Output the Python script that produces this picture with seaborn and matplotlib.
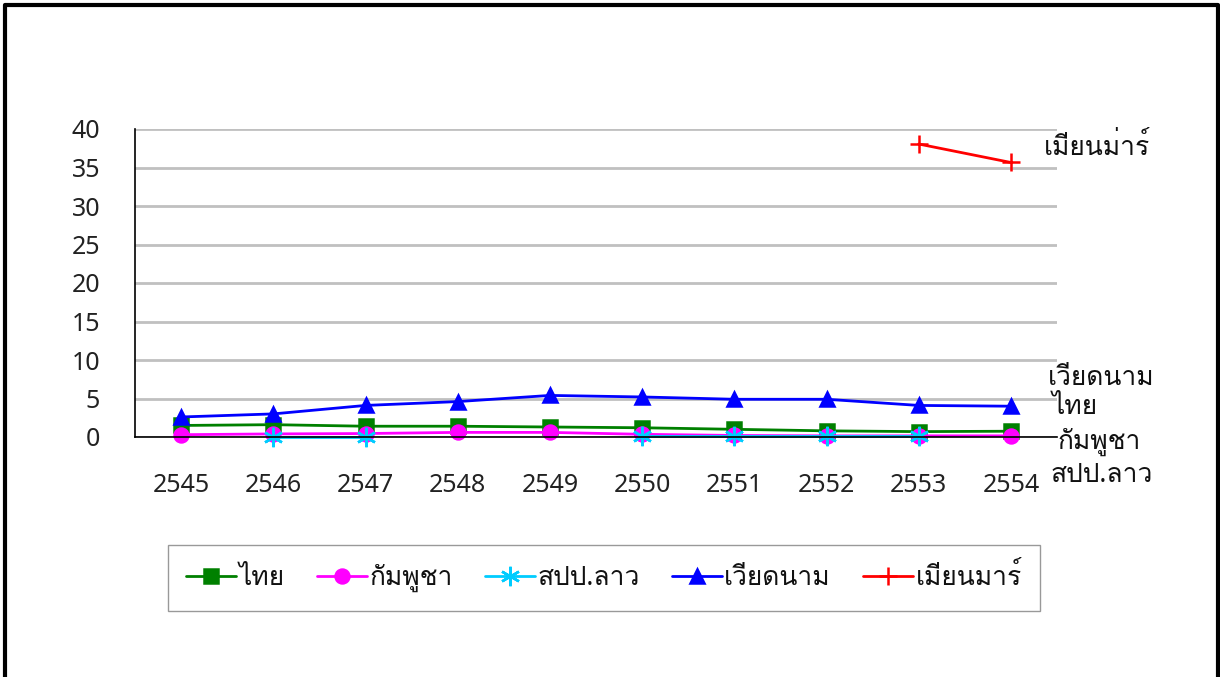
import numpy as np
import pandas as pd
import matplotlib
matplotlib.use("Agg")
import matplotlib.pyplot as plt
from matplotlib import font_manager
from matplotlib.lines import Line2D
import seaborn as sns

# data
years = ["2545", "2546", "2547", "2548", "2549", "2550", "2551", "2552", "2553", "2554"]
countries = ["ไทย", "กัมพูชา", "สปป.ลาว", "เวียดนาม", "เมียนมาร์"]
thai = [1.5, 1.6, 1.4, 1.4, 1.3, 1.2, 1.0, 0.8, 0.7, 0.75]
cambodia = [0.3, 0.4, 0.45, 0.6, 0.6, 0.35, 0.2, 0.15, 0.15, 0.15]
laos = [np.nan, 0.05, 0.05, np.nan, np.nan, 0.1, 0.1, 0.1, 0.1, np.nan]
vietnam = [2.6, 3.0, 4.1, 4.6, 5.4, 5.2, 4.9, 4.9, 4.1, 4.0]
myanmar = [np.nan, np.nan, np.nan, np.nan, np.nan, np.nan, np.nan, np.nan, 38.05, 35.65]
end_labels = ["ไทย", "กัมพูชา", "สปป.ลาว", "เวียดนาม", "เมียนม่าร์"]

colors = ["#008000", "#ff00ff", "#00ccff", "#0000ff", "#ff0000"]
markers = ["s", "o", (6, 2, 0), "^", "+"]
msizes = [10, 10, 14, 10, 13]


def find_thai_font():
    # look for an installed font that has Thai glyphs
    try:
        from fontTools.ttLib import TTFont
    except ImportError:
        return None
    for f in sorted(font_manager.findSystemFonts()):
        try:
            tt = TTFont(f, fontNumber=0, lazy=True)
            cmap = tt.getBestCmap()
            if cmap and 0x0E44 in cmap and 0x0E21 in cmap:
                return font_manager.FontProperties(fname=f).get_name()
        except Exception:
            continue
    return None


sns.set_theme(style="white")
thai_font = find_thai_font()
fams = ["Noto Sans", "DejaVu Sans"]
if thai_font:
    fams = ["Noto Sans", thai_font, "DejaVu Sans"]
plt.rcParams["font.family"] = fams

series = [thai, cambodia, laos, vietnam, myanmar]
rows = []
for name, vals in zip(countries, series):
    seg = 0
    prev_nan = True
    for i, v in enumerate(vals):
        if np.isnan(v):
            prev_nan = True
            continue
        if prev_nan:
            seg += 1
        prev_nan = False
        rows.append({"country": name, "x": i, "v": v, "seg": f"{name}_{seg}"})
df = pd.DataFrame(rows)

fig = plt.figure(figsize=(12.2, 6.77), dpi=100)
ax = fig.add_axes([135 / 1220, 1 - 437 / 677, (1057 - 135) / 1220, (437 - 129) / 677])

for name, c, m, ms in zip(countries, colors, markers, msizes):
    sub = df[df["country"] == name]
    sns.lineplot(data=sub, x="x", y="v", units="seg", estimator=None, ax=ax,
                 color=c, marker=m, markersize=ms, markeredgecolor=c,
                 markerfacecolor=c, markeredgewidth=1.8, linewidth=2, legend=False,
                 clip_on=False)

ax.set_xlim(-0.5, len(years) - 0.5)
ax.set_ylim(0, 40)
ax.set_yticks(range(0, 41, 5))
ax.set_xticks(np.arange(len(years)))
ax.set_xticklabels(years)
ax.set_xticks(np.arange(-0.5, len(years)), minor=True)
ax.tick_params(axis="x", which="major", length=0, pad=26, labelsize=18, colors="#222222")
ax.tick_params(axis="x", which="minor", length=8, width=1, color="#808080", direction="out")
ax.tick_params(axis="y", length=9, width=1, color="#808080", direction="out", labelsize=18,
               pad=16, labelcolor="#222222")
ax.set_xlabel("")
ax.set_ylabel("")
ax.yaxis.grid(True, color="#c0c0c0", linewidth=2)
ax.xaxis.grid(False)
ax.set_axisbelow(True)
for s in ["top", "right"]:
    ax.spines[s].set_visible(False)
for s in ["left", "bottom"]:
    ax.spines[s].set_color("black")
    ax.spines[s].set_linewidth(1.2)

# labels at the right end of the lines
label_y = [407, 442, 475, 378, 148]
label_x = [1052, 1058, 1050, 1048, 1044]
for lab, lx, ly in zip(end_labels, label_x, label_y):
    fig.text(lx / 1220, 1 - ly / 677, lab, fontsize=19, va="center", ha="left", color="#111111")

handles = []
for c, m, ms in zip(colors, markers, msizes):
    handles.append(Line2D([], [], color=c, marker=m, markersize=ms, markeredgecolor=c,
                          markerfacecolor=c, markeredgewidth=1.8, linewidth=2))
leg = fig.legend(handles, countries, loc="center", ncol=5, fontsize=19,
                 bbox_to_anchor=(604 / 1220, 1 - 578 / 677), frameon=True, fancybox=False,
                 handlelength=1.9, handletextpad=0.1, columnspacing=1.2,
                 borderpad=0.7, labelcolor="#111111")
leg.get_frame().set_edgecolor("#808080")
leg.get_frame().set_linewidth(1)

# outer chart border (no bottom edge visible)
fig.add_artist(Line2D([5 / 1220, 5 / 1220, 1218 / 1220, 1218 / 1220],
                      [0, 1 - 5 / 677, 1 - 5 / 677, 0],
                      transform=fig.transFigure, color="black", linewidth=3))

fig.savefig("out.png", dpi=100)
